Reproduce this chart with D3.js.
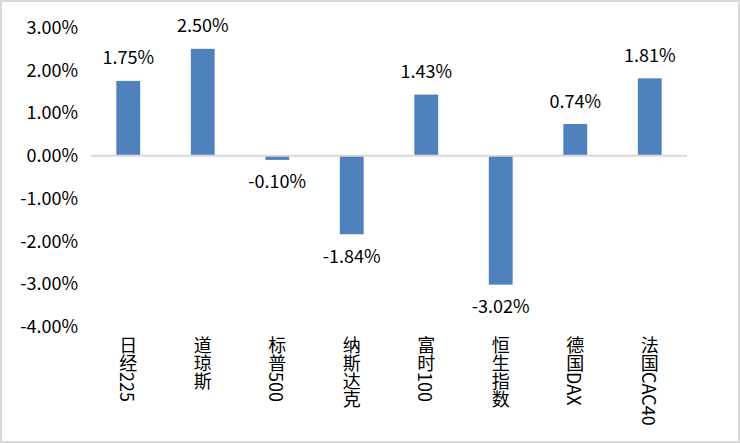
<!DOCTYPE html>
<html>
<head>
<meta charset="utf-8">
<script src="https://cdn.jsdelivr.net/npm/d3@7"></script>
<style>
  html, body { margin: 0; padding: 0; background: #fff; }
  svg { display: block; }
  text { font-family: "Microsoft YaHei", "Noto Sans CJK SC", sans-serif; fill: #000; }
  .vert { writing-mode: vertical-rl; text-orientation: mixed; }
</style>
</head>
<body>
<svg id="chart" width="740" height="443"></svg>
<script>
const categories = ["日经225", "道琼斯", "标普500", "纳斯达克", "富时100", "恒生指数", "德国DAX", "法国CAC40"];
const values = [1.75, 2.50, -0.10, -1.84, 1.43, -3.02, 0.74, 1.81];
const yTicks = [3, 2, 1, 0, -1, -2, -3, -4];

const W = 740, H = 443;
const svg = d3.select("#chart");

svg.append("rect")
  .attr("x", 1).attr("y", 1).attr("width", W - 2).attr("height", H - 2)
  .attr("fill", "#fff").attr("stroke", "#d9d9d9").attr("stroke-width", 2);

const x = d3.scaleBand().domain(categories).range([91, 687]).padding(0);
const y = d3.scaleLinear().domain([-4, 3]).range([326.5, 27.5]);
const barW = x.bandwidth() * 0.32;
const fmt = v => v.toFixed(2) + "%";
const FS = 18;

// y axis labels
svg.append("g").selectAll("text").data(yTicks).join("text")
  .attr("x", 78)
  .attr("y", d => y(d) + 6.5)
  .attr("text-anchor", "end")
  .attr("font-size", FS)
  .text(d => fmt(d));

// bars
svg.append("g").selectAll("rect").data(values).join("rect")
  .attr("x", (d, i) => x(categories[i]) + x.bandwidth() / 2 - barW / 2)
  .attr("y", d => y(Math.max(0, d)))
  .attr("width", barW)
  .attr("height", d => Math.abs(y(d) - y(0)))
  .attr("fill", "#4f81bd");

// zero line
svg.append("line")
  .attr("x1", x.range()[0]).attr("x2", x.range()[1])
  .attr("y1", y(0)).attr("y2", y(0))
  .attr("stroke", "#d9d9d9").attr("stroke-width", 2);

// data labels
svg.append("g").selectAll("text").data(values).join("text")
  .attr("x", (d, i) => x(categories[i]) + x.bandwidth() / 2)
  .attr("y", d => d >= 0 ? y(d) - 16.5 : y(d) + 28.5)
  .attr("text-anchor", "middle")
  .attr("font-size", FS)
  .text(d => fmt(d));

// category labels (vertical writing)
svg.append("g").selectAll("text").data(categories).join("text")
  .attr("class", "vert")
  .attr("x", d => x(d) + x.bandwidth() / 2)
  .attr("y", 336)
  .attr("text-anchor", "start")
  .attr("font-size", FS)
  .text(d => d);
</script>
</body>
</html>
